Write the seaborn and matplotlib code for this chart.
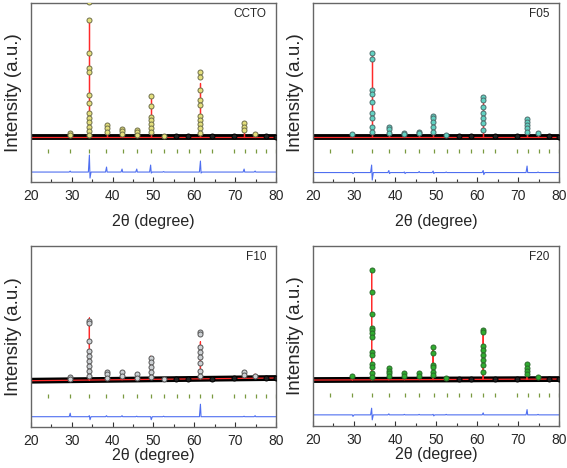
import matplotlib
matplotlib.use("Agg")
import matplotlib.pyplot as plt
from matplotlib.ticker import MultipleLocator
import seaborn as sns
import numpy as np
import pandas as pd

# Bragg reflection positions (2theta) and main peak positions
bragg_pos = [24.1, 29.55, 34.3, 38.45, 42.45, 45.96, 49.39, 52.57, 55.67,
             58.6, 61.47, 64.33, 69.63, 72.4, 75.0, 77.5, 79.9]
peak_pos = [29.6, 34.3, 38.5, 42.3, 45.9, 49.3, 52.5, 61.5, 72.2, 74.9]
minor_pos = [55.6, 58.5, 64.3, 69.7, 77.5, 80.0]

samples = ["CCTO", "F05", "F10", "F20"]

# observed intensity stacks for each peak in peak_pos (arbitrary units)
obs_ccto = [[4, 2], [135, 117, 84, 69, 65, 42, 34, 24, 19, 15, 10, 6, 2], [12, 9, 5],
            [8, 6, 3], [7, 5, 2], [41, 31, 20, 17, 13, 9, 5], [1.5], [65, 60, 47, 37, 32, 21, 17, 13, 9, 4],
            [14, 10, 7], [3]]
obs_f05 = [[3], [84, 78, 47, 43, 35, 24, 19, 10, 5], [10, 8, 4], [4, 3], [5, 4],
           [21, 19, 15, 10, 5], [2], [40, 37, 30, 24, 19, 14, 7], [18, 15, 12, 9, 5], [4]]
obs_f10 = [[4, 2], [60, 58, 40, 30, 25, 20, 15, 10, 5], [9, 7, 3], [9, 5], [7, 3],
           [23, 19, 14, 9, 4], [2], [49, 47, 34, 29, 24, 18, 10, 5], [8.4, 6], [5]]
obs_f20 = [[4], [111, 88, 66, 52, 50, 47, 43, 28, 25, 16, 13, 7, 3], [12, 9, 7, 4], [7, 4], [7, 4],
           [33, 27, 15, 13, 8, 5], [2], [50, 48, 34, 30, 25, 20, 15, 8], [16, 12, 9, 6], [3]]

# calculated peak heights for each peak in peak_pos
calc_ccto = [3, 117, 10, 7, 6, 38, 1, 54, 10, 2]
calc_f05 = [2.5, 84, 8, 3.5, 4, 19, 1.5, 34, 13, 3]
calc_f10 = [3, 62, 7, 7, 5, 23, 1.5, 37, 7, 4]
calc_f20 = [3.5, 110, 10, 6, 6, 32, 1.5, 47, 14, 2.5]

# minor observed points near the background
minor_ccto = [1, 1, 1, 1, 1.5, 0.5]
minor_f05 = [1, 1, 1, 1, 1.5, 0.5]
minor_f10 = [1.5, 2, 2, 2.5, 3, 3]
minor_f20 = [1, 1, 1, 1, 1.5, 1]

# background level at 20 and 80 degrees
base_ccto = [0, 0]
base_f05 = [0, 0]
base_f10 = [0, 2.7]
base_f20 = [0, 1]

# difference curve: spike up / down at each peak in peak_pos
diff_up_ccto = [1, 17, 5, 3, 3, 7, 0.5, 11, 3, 1]
diff_dn_ccto = [0, -6, 0, 0, 0, -1, 0, -1, 0, 0]
diff_up_f05 = [0, 7.5, 2, 0.5, 1, 1.5, 0.5, 2, 6.5, 0.5]
diff_dn_f05 = [-1, -7.5, -1, -1, 0, -1, 0, -2, 0, 0]
diff_up_f10 = [3.5, 1, 1, 1, 0.5, 0, 0.5, 12.5, 0.5, 1]
diff_dn_f10 = [0, -3, 0, 0, 0, -3, 0, 0, 0, 0]
diff_up_f20 = [0, 6.7, 1, 0.5, 0.5, 0.5, 0.5, 2, 5.3, 0.5]
diff_dn_f20 = [-1.5, -5, 0, 0, 0, -1, 0, 0, 0, 0]

diff_base = [-35, -35.5, -36, -35]
bragg_y = [-14, -14, -15, -15]
ylims = [(-45, 134), (-45, 134), (-46.3, 134.7), (-46.3, 134.7)]

fills = ["#e4df7c", "#62d2c2", "#cdd1d4", "#30ad30"]
edges = ["#6f6f4a", "#4d6b6b", "#555555", "#2a6a2a"]

obs_all = [obs_ccto, obs_f05, obs_f10, obs_f20]
calc_all = [calc_ccto, calc_f05, calc_f10, calc_f20]
minor_all = [minor_ccto, minor_f05, minor_f10, minor_f20]
base_all = [base_ccto, base_f05, base_f10, base_f20]
dup_all = [diff_up_ccto, diff_up_f05, diff_up_f10, diff_up_f20]
ddn_all = [diff_dn_ccto, diff_dn_f05, diff_dn_f10, diff_dn_f20]

sns.set_style("white")
plt.rcParams["font.family"] = ["Liberation Sans", "DejaVu Sans"]

fig = plt.figure(figsize=(5.67, 4.68), dpi=100)
boxes = [[0.0547, 0.611, 0.432, 0.3825], [0.552, 0.611, 0.434, 0.3825],
         [0.0547, 0.0876, 0.432, 0.3868], [0.552, 0.0895, 0.434, 0.3849]]
xpads = [8, 8, 0, 0]

for i, name in enumerate(samples):
    ax = fig.add_axes(boxes[i])
    base = base_all[i]

    # background band (dense observed points)
    sns.lineplot(x=[20, 80], y=base, ax=ax, color="black", linewidth=4.2, sort=False, estimator=None)

    # calculated profile
    cx, cy = [20], [base[0]]
    for p, h in zip(peak_pos, calc_all[i]):
        b = np.interp(p, [20, 80], base)
        cx += [p, p, p]
        cy += [b, b + h, b]
    cx.append(80)
    cy.append(base[1])
    calc_df = pd.DataFrame({"x": cx, "y": cy})
    sns.lineplot(data=calc_df, x="x", y="y", ax=ax, color="#ff2a2a", linewidth=0.9,
                 sort=False, estimator=None)

    # observed points
    ox, oy = [], []
    for p, stack in zip(peak_pos, obs_all[i]):
        ox += [p] * len(stack)
        oy += stack
    obs_df = pd.DataFrame({"x": ox, "y": oy})
    sns.scatterplot(data=obs_df, x="x", y="y", ax=ax, s=13, color=fills[i],
                    edgecolor=edges[i], linewidth=0.7, zorder=3)
    minor_df = pd.DataFrame({"x": minor_pos, "y": minor_all[i]})
    sns.scatterplot(data=minor_df, x="x", y="y", ax=ax, s=13, color="#222222",
                    edgecolor="black", linewidth=0.7, zorder=3)

    # Bragg positions
    ax.vlines(bragg_pos, bragg_y[i] - 2, bragg_y[i] + 2, color="#7a9a40", linewidth=0.9)

    # difference curve
    d0 = diff_base[i]
    dx, dy = [20], [d0]
    for p, up, dn in zip(peak_pos, dup_all[i], ddn_all[i]):
        dx += [p - 0.25, p, p + 0.15, p + 0.4]
        dy += [d0, d0 + up, d0 + dn, d0]
    dx.append(80)
    dy.append(d0)
    diff_df = pd.DataFrame({"x": dx, "y": dy})
    sns.lineplot(data=diff_df, x="x", y="y", ax=ax, color="#4f6ff0", linewidth=0.8,
                 sort=False, estimator=None)

    ax.set_xlim(20, 80)
    ax.set_ylim(*ylims[i])
    ax.set_yticks([])
    ax.xaxis.set_major_locator(MultipleLocator(10))
    ax.xaxis.set_minor_locator(MultipleLocator(5))
    ax.tick_params(axis="x", which="major", direction="in", length=3.5, width=0.8,
                   color="#333333", labelsize=10, pad=5, bottom=True, top=False)
    ax.tick_params(axis="x", which="minor", direction="in", length=2, width=0.8,
                   color="#333333", bottom=True, top=False)
    for sp in ax.spines.values():
        sp.set_color("#666666")
        sp.set_linewidth(1.0)
    ax.set_xlabel("2\u03b8 (degree)", fontsize=11.5, labelpad=xpads[i])
    ax.set_ylabel("Intensity (a.u.)", fontsize=13.5, labelpad=6.5)
    ax.text(0.96, 0.94, name, transform=ax.transAxes, ha="right", va="center", fontsize=8.5)

fig.savefig("out.png", dpi=100)
